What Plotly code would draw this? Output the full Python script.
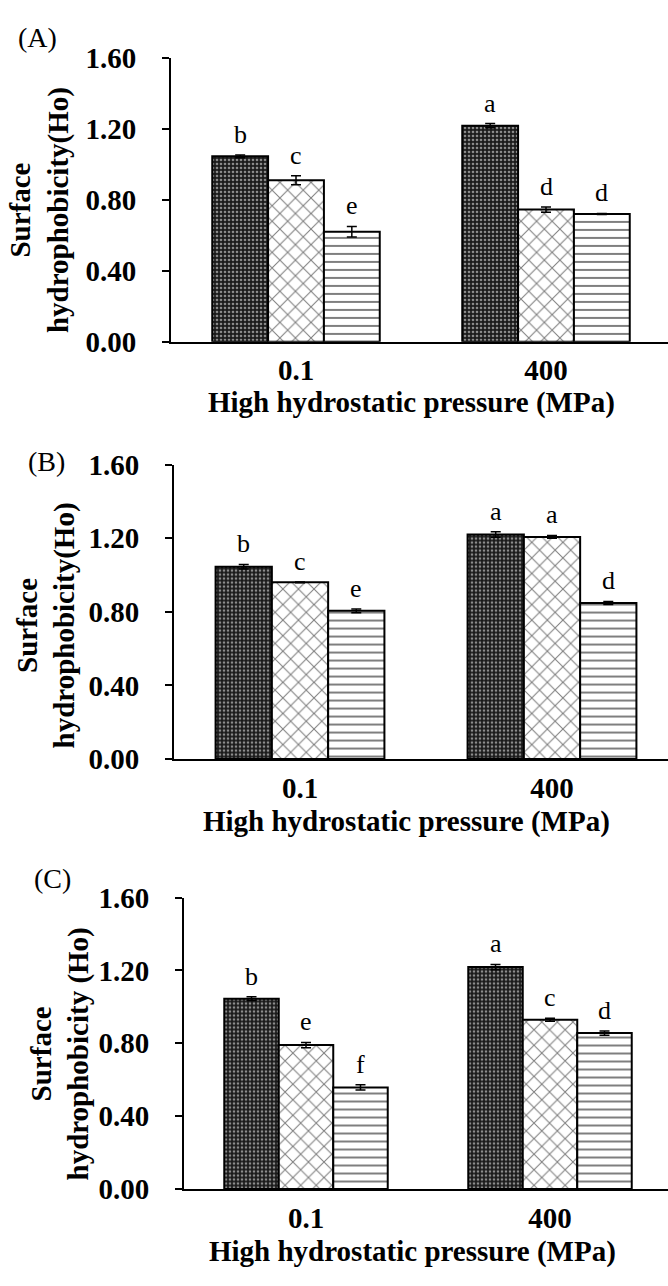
import plotly.graph_objects as go

W, H = 668, 1286
FONT = "Liberation Serif"

categories = ["0.1", "400"]
y_ticks = [0.0, 0.4, 0.8, 1.2, 1.6]

# Panel A
A_s1 = [1.045, 1.218]
A_s2 = [0.910, 0.745]
A_s3 = [0.620, 0.720]
A_e1 = [0.008, 0.012]
A_e2 = [0.025, 0.015]
A_e3 = [0.030, 0.003]
A_l1 = ["b", "a"]
A_l2 = ["c", "d"]
A_l3 = ["e", "d"]

# Panel B
B_s1 = [1.045, 1.220]
B_s2 = [0.960, 1.207]
B_s3 = [0.805, 0.848]
B_e1 = [0.012, 0.015]
B_e2 = [0.002, 0.008]
B_e3 = [0.010, 0.008]
B_l1 = ["b", "a"]
B_l2 = ["c", "a"]
B_l3 = ["e", "d"]

# Panel C
C_s1 = [1.045, 1.218]
C_s2 = [0.790, 0.929]
C_s3 = [0.558, 0.856]
C_e1 = [0.010, 0.015]
C_e2 = [0.015, 0.008]
C_e3 = [0.015, 0.012]
C_l1 = ["b", "a"]
C_l2 = ["e", "c"]
C_l3 = ["f", "d"]

panel_labels = ["(A)", "(B)", "(C)"]
y_titles = ["Surface<br>hydrophobicity(Ho)", "Surface<br>hydrophobicity(Ho)", "Surface<br>hydrophobicity (Ho)"]
x_title = "High hydrostatic pressure (MPa)"

panels = [
    dict(s=[A_s1, A_s2, A_s3], e=[A_e1, A_e2, A_e3], l=[A_l1, A_l2, A_l3],
         x0=171, sp=250, top=43, bot=334, lab=(37, 22), yt=(39, 199), xt=(411, 396)),
    dict(s=[B_s1, B_s2, B_s3], e=[B_e1, B_e2, B_e3], l=[B_l1, B_l2, B_l3],
         x0=174, sp=252, top=460, bot=762, lab=(46, 457), yt=(46, 625), xt=(407, 826)),
    dict(s=[C_s1, C_s2, C_s3], e=[C_e1, C_e2, C_e3], l=[C_l1, C_l2, C_l3],
         x0=184, sp=244, top=904, bot=1203, lab=(52, 885), yt=(60, 1065), xt=(412, 1267)),
]

patterns = [
    dict(shape=".", size=4, solidity=0.35, fgcolor="white", bgcolor="#1a1a1a"),
    dict(shape="x", size=11, solidity=0.18, fgcolor="black", bgcolor="white"),
    dict(shape="-", size=8, solidity=0.25, fgcolor="black", bgcolor="white"),
]

BARGAP = 0.33
bw = (1 - BARGAP) / 3

fig = go.Figure()
annotations = []
layout = {}

for k, p in enumerate(panels):
    sx = "" if k == 0 else str(k + 1)
    xref, yref = "x" + sx, "y" + sx
    for j in range(3):
        fig.add_trace(go.Bar(
            x=categories, y=p["s"][j], xaxis=xref, yaxis=yref,
            marker=dict(color="white", line=dict(color="black", width=2), pattern=patterns[j]),
            error_y=dict(type="data", array=p["e"][j], color="black", thickness=1.5, width=5),
            showlegend=False, hoverinfo="skip",
        ))
        for i in range(2):
            annotations.append(dict(
                x=i + (j - 1) * bw, y=p["s"][j][i] + p["e"][j][i], xref=xref, yref=yref,
                text=p["l"][j][i], showarrow=False, yanchor="bottom", yshift=4,
                font=dict(family=FONT, size=26, color="black"),
            ))
    xr = -0.5 + (W - p["x0"]) / p["sp"]
    layout["xaxis" + sx] = dict(
        domain=[p["x0"] / W, 1], range=[-0.5, xr], anchor=yref, type="category",
        showline=True, linecolor="black", linewidth=2, ticks="", showgrid=False,
        tickfont=dict(family=FONT, size=29, color="black", weight="bold"),
        ticklabelstandoff=2,
    )
    layout["yaxis" + sx] = dict(
        domain=[1 - p["bot"] / H, 1 - p["top"] / H], range=[0, 1.6], anchor=xref,
        tickvals=y_ticks, tickformat=".2f",
        showline=True, linecolor="black", linewidth=2, ticks="outside", ticklen=7,
        tickwidth=2, tickcolor="black", showgrid=False, zeroline=False,
        tickfont=dict(family=FONT, size=29, color="black", weight="bold"),
        ticklabelstandoff=20,
    )
    annotations.append(dict(
        x=p["lab"][0] / W, y=1 - p["lab"][1] / H, xref="paper", yref="paper",
        text=panel_labels[k], showarrow=False, xanchor="center", yanchor="middle",
        font=dict(family=FONT, size=28, color="black"),
    ))
    annotations.append(dict(
        x=p["yt"][0] / W, y=1 - p["yt"][1] / H, xref="paper", yref="paper",
        text="<b>" + y_titles[k] + "</b>", showarrow=False, textangle=-90,
        xanchor="center", yanchor="middle",
        font=dict(family=FONT, size=29, color="black"),
    ))
    annotations.append(dict(
        x=p["xt"][0] / W, y=1 - p["xt"][1] / H, xref="paper", yref="paper",
        text="<b>" + x_title + "</b>", showarrow=False,
        xanchor="center", yanchor="middle",
        font=dict(family=FONT, size=29, color="black"),
    ))

fig.update_layout(
    width=W, height=H, margin=dict(l=0, r=0, t=0, b=0),
    paper_bgcolor="white", plot_bgcolor="white",
    barmode="group", bargap=BARGAP, bargroupgap=0,
    annotations=annotations, showlegend=False,
    **layout,
)

fig.write_html("out.html")
